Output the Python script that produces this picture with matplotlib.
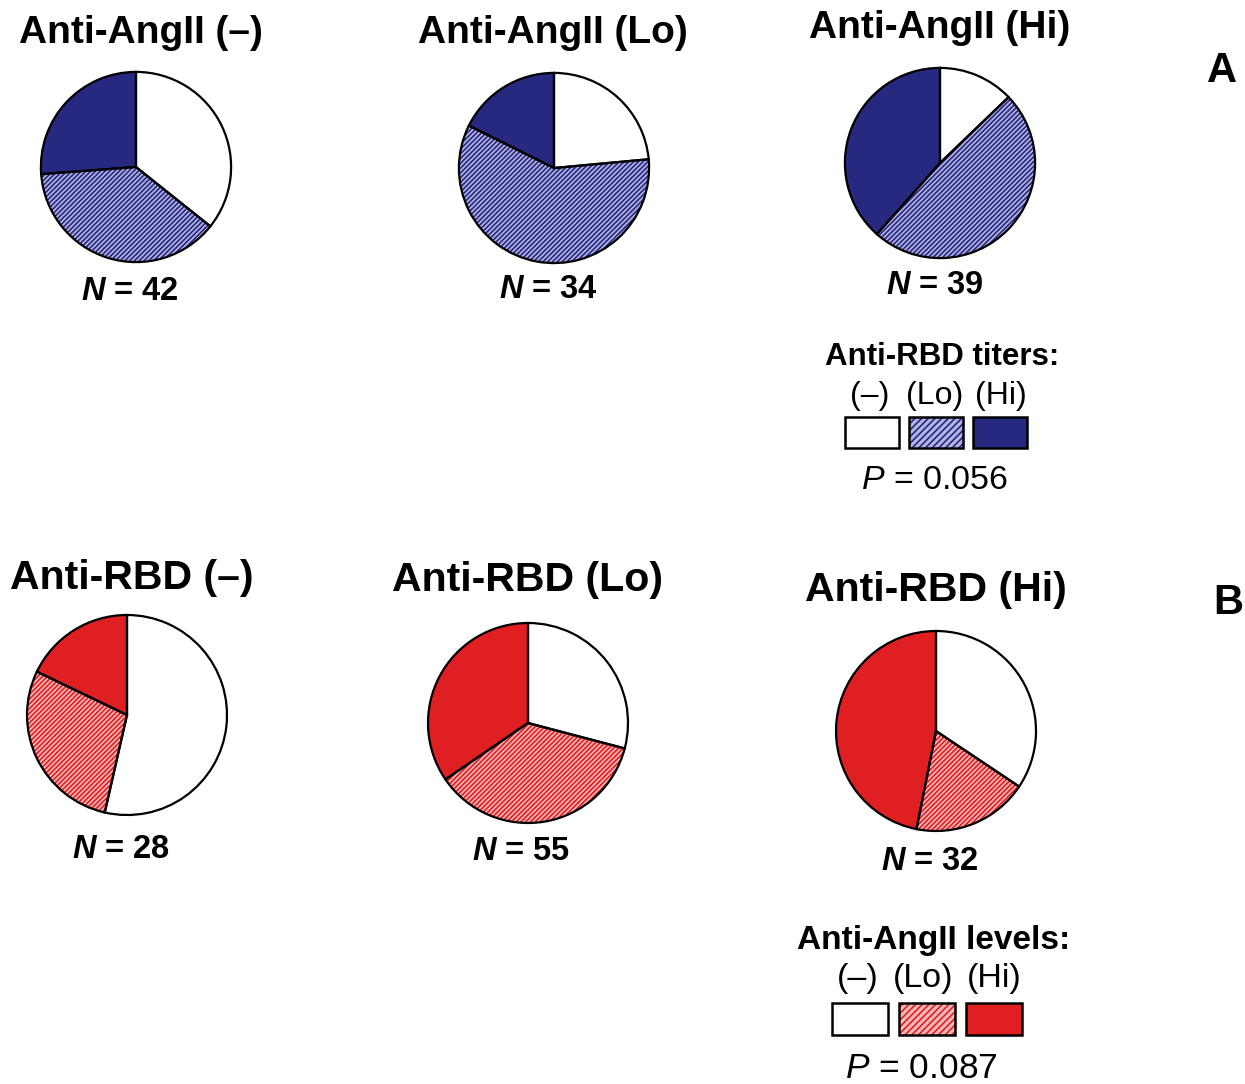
import matplotlib
matplotlib.use("Agg")
import matplotlib.pyplot as plt
from matplotlib.patches import Rectangle

plt.rcParams['font.family'] = ['Liberation Sans', 'DejaVu Sans']
plt.rcParams['mathtext.fontset'] = 'custom'
plt.rcParams['mathtext.it'] = 'Liberation Sans:italic'
plt.rcParams['mathtext.bf'] = 'Liberation Sans:italic:bold'
plt.rcParams['mathtext.rm'] = 'Liberation Sans'
plt.rcParams['hatch.linewidth'] = 1.2

# counts per group, order: (-), (Lo), (Hi)
angii_titles = ['Anti-AngII (–)', 'Anti-AngII (Lo)', 'Anti-AngII (Hi)']
angii_counts = [[15, 16, 11], [8, 20, 6], [5, 19, 15]]
rbd_titles = ['Anti-RBD (–)', 'Anti-RBD (Lo)', 'Anti-RBD (Hi)']
rbd_counts = [[15, 8, 5], [16, 20, 19], [11, 6, 15]]
level_labels = ['(–)', '(Lo)', '(Hi)']
p_values = ['0.056', '0.087']

navy = '#27287f'
navy_light = '#b4b4e4'
red = '#e01f22'
red_light = '#f6b9b9'

W, H = 1245, 1084
fig = plt.figure(figsize=(W / 100, H / 100), dpi=100)


def fx(x):
    return x / W


def fy(y):
    return 1 - y / H


def draw_pie(counts, cx, cy, r, dark, light):
    ax = fig.add_axes([(cx - r) / W, 1 - (cy + r) / H, 2 * r / W, 2 * r / H])
    wedges, _ = ax.pie(counts, colors=['white', light, dark], startangle=90,
                       counterclock=False, radius=1,
                       wedgeprops=dict(linewidth=0))
    wedges[1].set_hatch('///////')
    wedges[1].set_edgecolor(dark)
    wedges[1].set_linewidth(0)
    # outlines on top
    ax.pie(counts, colors=['none'] * 3, startangle=90, counterclock=False,
           radius=1, wedgeprops=dict(linewidth=1.6, edgecolor='black', fill=False))
    ax.set_xlim(-1.02, 1.02)
    ax.set_ylim(-1.02, 1.02)
    ax.set_aspect('equal')
    ax.axis('off')


# row A
top_cx = [136, 554, 940]
top_cy = [167, 168, 163]
top_title_x = [141, 553, 940]
top_title_y = [33, 33, 28]
top_n_x = [130, 548, 935]
top_n_y = [292, 290, 286]
for i in range(3):
    draw_pie(angii_counts[i], top_cx[i], top_cy[i], 97, navy, navy_light)
    fig.text(fx(top_title_x[i]), fy(top_title_y[i]), angii_titles[i], fontsize=28,
             fontweight='bold', ha='center', va='center')
    fig.text(fx(top_n_x[i]), fy(top_n_y[i]), r'$\mathbf{N}$ = %d' % sum(angii_counts[i]),
             fontsize=23.5, fontweight='bold', ha='center', va='center')

# row B
bot_cx = [127, 528, 936]
bot_cy = [715, 723, 731]
bot_title_x = [132, 527, 936]
bot_title_y = [578, 580, 590]
bot_n_x = [121, 521, 930]
bot_n_y = [850, 852, 861]
for i in range(3):
    draw_pie(rbd_counts[i], bot_cx[i], bot_cy[i], 102, red, red_light)
    fig.text(fx(bot_title_x[i]), fy(bot_title_y[i]), rbd_titles[i], fontsize=29.5,
             fontweight='bold', ha='center', va='center')
    fig.text(fx(bot_n_x[i]), fy(bot_n_y[i]), r'$\mathbf{N}$ = %d' % sum(rbd_counts[i]),
             fontsize=23.5, fontweight='bold', ha='center', va='center')

fig.text(fx(1222), fy(71), 'A', fontsize=30, fontweight='bold', ha='center', va='center')
fig.text(fx(1228), fy(603), 'B', fontsize=30, fontweight='bold', ha='center', va='center')


def draw_legend(title, title_x, title_y, title_size, box_x, box_w, box_y, box_h,
                lab_x, lab_y, lab_size, p, p_x, p_y, p_size, dark, light):
    fig.text(fx(title_x), fy(title_y), title, fontsize=title_size, fontweight='bold',
             ha='center', va='center')
    faces = ['white', light, dark]
    hatches = [None, '/////', None]
    for j in range(3):
        fig.text(fx(lab_x[j]), fy(lab_y), level_labels[j], fontsize=lab_size,
                 ha='center', va='center')
        rect = Rectangle((fx(box_x[j]), fy(box_y + box_h)), box_w / W, box_h / H,
                         transform=fig.transFigure, facecolor=faces[j],
                         edgecolor=dark if j == 1 else 'black', hatch=hatches[j],
                         linewidth=0)
        fig.add_artist(rect)
        fig.add_artist(Rectangle((fx(box_x[j]), fy(box_y + box_h)), box_w / W, box_h / H,
                                 transform=fig.transFigure, fill=False,
                                 edgecolor='black', linewidth=1.8))
    fig.text(fx(p_x), fy(p_y), r'$P$ = ' + p, fontsize=p_size, ha='center', va='center')


draw_legend('Anti-RBD titers:', 942, 357, 22.5, [845, 909, 973], 54, 417, 31,
            [870, 935, 1001], 396, 23, p_values[0], 934, 481, 24.5, navy, navy_light)
draw_legend('Anti-AngII levels:', 934, 940, 24, [832, 899, 966], 56, 1003, 32,
            [858, 923, 994], 978, 24.5, p_values[1], 921, 1068, 25.5, red, red_light)

fig.savefig('out.png', dpi=100)
